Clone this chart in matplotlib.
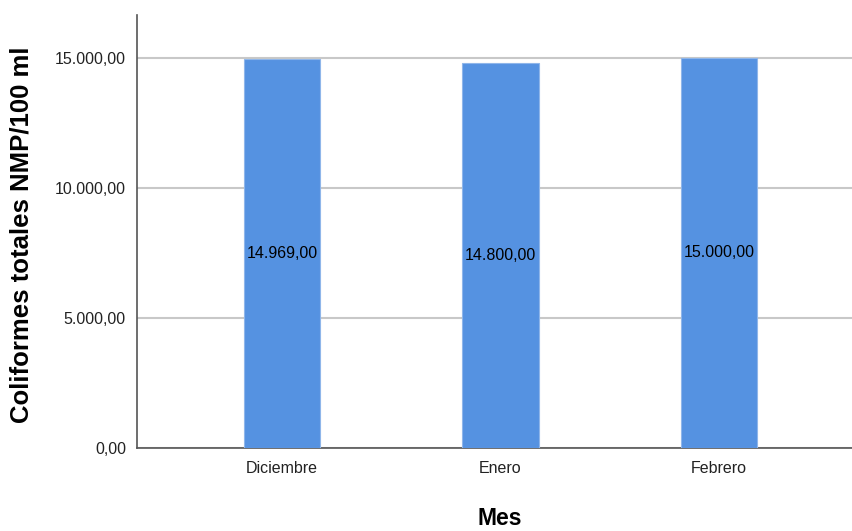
import matplotlib.pyplot as plt
from matplotlib.ticker import FuncFormatter

# data
meses = ["Diciembre", "Enero", "Febrero"]
coliformes = [14969.0, 14800.0, 15000.0]
yticks = [0, 5000, 10000, 15000]


def fmt_es(v, pos=None):
    # spanish number format: 15.000,00
    s = "{:,.2f}".format(v)
    return s.replace(",", "X").replace(".", ",").replace("X", ".")


plt.rcParams['font.family'] = ['Liberation Sans', 'DejaVu Sans']

fig = plt.figure(figsize=(8.52, 5.31), dpi=100)
ax = fig.add_axes([0.1608, 0.1563, 0.8392, 0.8155])

x = list(range(len(meses)))
bars = ax.bar(x, coliformes, width=0.348, color="#5592e1", edgecolor="#8fb6ea",
              linewidth=0.8, zorder=3)

for xi, v in zip(x, coliformes):
    ax.text(xi, v / 2, fmt_es(v), ha="center", va="center", fontsize=11.5,
            color="black", zorder=4)

ax.set_xlim(-0.664, 2.609)
ax.set_ylim(0, 16650)
ax.set_yticks(yticks)
ax.yaxis.set_major_formatter(FuncFormatter(fmt_es))
ax.set_xticks(x)
ax.set_xticklabels(meses)
ax.tick_params(axis="both", length=0, labelsize=11.5, colors="#222222")
ax.tick_params(axis="x", pad=9)
ax.tick_params(axis="y", pad=8)

ax.grid(axis="y", color="#c8c8c8", linewidth=1.5, zorder=0)
for s in ["top", "right"]:
    ax.spines[s].set_visible(False)
ax.spines["left"].set_color("#555555")
ax.spines["bottom"].set_color("#555555")
ax.spines["left"].set_linewidth(1.2)
ax.spines["bottom"].set_linewidth(1.2)

ax.set_ylabel("Coliformes totales NMP/100 ml", fontsize=18.5, fontweight="bold",
              va="center")
ax.yaxis.set_label_coords(-0.161, 0.492)
ax.set_xlabel("Mes", fontsize=16.5, fontweight="bold", va="center")
ax.xaxis.set_label_coords(0.507, -0.1617)

fig.savefig("out.png", dpi=100)
